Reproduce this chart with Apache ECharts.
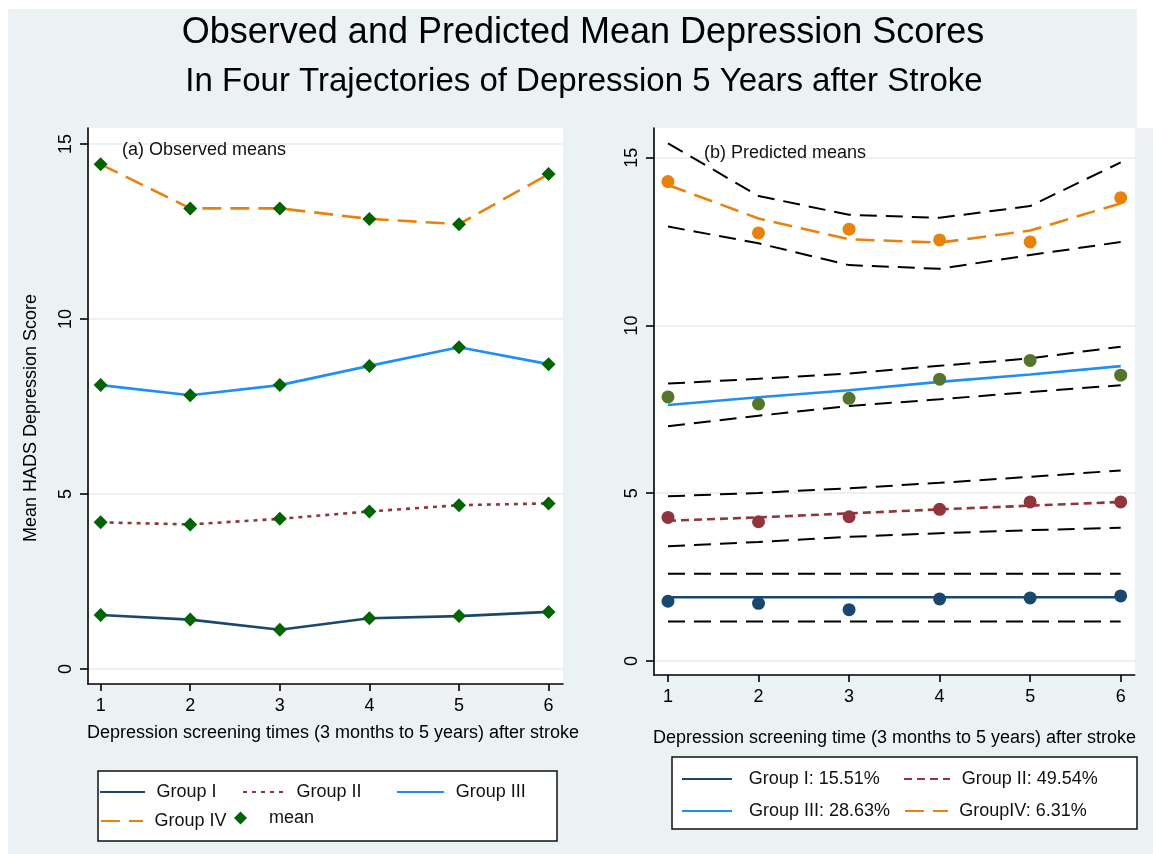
<!DOCTYPE html>
<html>
<head>
<meta charset="utf-8">
<script src="https://cdn.jsdelivr.net/npm/echarts@6/dist/echarts.min.js"></script>
<style>
html, body { margin: 0; padding: 0; background: #fff; }
#chart { width: 1153px; height: 854px; }
</style>
</head>
<body>
<div id="chart"></div>
<script>
// screening times and y ticks
var times = [1, 2, 3, 4, 5, 6];
var yTicks = [0, 5, 10, 15];

// (a) observed means
var groupNames = ['Group I', 'Group II', 'Group III', 'Group IV'];
var obsGroup1 = [1.54, 1.41, 1.12, 1.45, 1.51, 1.63];
var obsGroup2 = [4.19, 4.13, 4.29, 4.50, 4.68, 4.73];
var obsGroup3 = [8.11, 7.82, 8.11, 8.66, 9.19, 8.71];
var obsGroup4 = [14.42, 13.16, 13.16, 12.86, 12.71, 14.14];

// (b) predicted means, 95% limits, observed points
var predNames = ['Group I: 15.51%', 'Group II: 49.54%', 'Group III: 28.63%', 'GroupIV: 6.31%'];
var predGroup1 = [1.90, 1.90, 1.90, 1.90, 1.90, 1.90];
var lowGroup1 = [1.18, 1.18, 1.18, 1.18, 1.18, 1.18];
var highGroup1 = [2.60, 2.60, 2.60, 2.60, 2.60, 2.60];
var ptsGroup1 = [1.78, 1.72, 1.53, 1.85, 1.88, 1.94];

var predGroup2 = [4.18, 4.28, 4.40, 4.52, 4.63, 4.74];
var lowGroup2 = [3.42, 3.55, 3.70, 3.81, 3.90, 3.97];
var highGroup2 = [4.91, 5.01, 5.15, 5.31, 5.49, 5.68];
var ptsGroup2 = [4.28, 4.15, 4.30, 4.52, 4.74, 4.74];

var predGroup3 = [7.63, 7.86, 8.07, 8.32, 8.54, 8.79];
var lowGroup3 = [7.00, 7.31, 7.60, 7.80, 8.02, 8.22];
var highGroup3 = [8.27, 8.41, 8.57, 8.80, 9.02, 9.37];
var ptsGroup3 = [7.87, 7.66, 7.83, 8.40, 8.96, 8.52];

var predGroup4 = [14.19, 13.19, 12.57, 12.47, 12.83, 13.64];
var lowGroup4 = [12.95, 12.45, 11.80, 11.69, 12.10, 12.49];
var highGroup4 = [15.43, 13.86, 13.30, 13.21, 13.56, 14.86];
var ptsGroup4 = [14.29, 12.76, 12.87, 12.55, 12.49, 13.81];

var lineColors = ['#1a476f', '#90353b', '#1f8ff5', '#e8820c'];
var dotColors = ['#1a476f', '#90353b', '#55752f', '#e8820c'];
var FONT = 'Liberation Sans';

var chart = echarts.init(document.getElementById('chart'));

function pairs(ys) {
    return times.map(function (t, i) { return [t, ys[i]]; });
}

function xAxisFor(grid, min, max, name, gap, pad) {
    return {
        type: 'value', gridIndex: grid, min: min, max: max,
        name: name, nameLocation: 'middle', nameGap: gap,
        nameTextStyle: { fontFamily: FONT, fontSize: 18, color: '#000', padding: pad },
        axisLine: { show: true, onZero: false, lineStyle: { color: '#000', width: 1.6 } },
        axisTick: { show: true, length: 7, customValues: times, lineStyle: { color: '#000', width: 1.6 } },
        axisLabel: { customValues: times, fontFamily: FONT, fontSize: 18, color: '#000', margin: 13 },
        splitLine: { show: false }
    };
}

function yAxisFor(grid, min, max, name) {
    return {
        type: 'value', gridIndex: grid, min: min, max: max,
        name: name, nameLocation: 'middle', nameGap: 48,
        nameTextStyle: { fontFamily: FONT, fontSize: 18, color: '#000', padding: [0, 24, 0, 0] },
        axisLine: { show: true, onZero: false, lineStyle: { color: '#000', width: 1.6 } },
        axisTick: { show: true, length: 8, customValues: yTicks, lineStyle: { color: '#000', width: 1.6 } },
        axisLabel: { customValues: yTicks, rotate: 90, fontFamily: FONT, fontSize: 18, color: '#000', margin: 13 },
        splitLine: { show: true, lineStyle: { color: '#e4eef0', width: 1.5 } }
    };
}

// one legend per key so each sits where the Stata legend put it
function legendItem(name, left, center, w, pad, isMarker) {
    return {
        data: [name], left: left, top: center - 10, padding: 0,
        itemWidth: w, itemHeight: isMarker ? 13 : 14, selectedMode: false,
        itemStyle: isMarker ? {} : { opacity: 0 },
        textStyle: { fontFamily: FONT, fontSize: 18, lineHeight: 20, color: '#111', padding: [0, 0, 0, pad] }
    };
}

var obsData = [obsGroup1, obsGroup2, obsGroup3, obsGroup4];
var predData = [predGroup1, predGroup2, predGroup3, predGroup4];
var lowData = [lowGroup1, lowGroup2, lowGroup3, lowGroup4];
var highData = [highGroup1, highGroup2, highGroup3, highGroup4];
var ptsData = [ptsGroup1, ptsGroup2, ptsGroup3, ptsGroup4];
var leftTypes = ['solid', [4, 5], 'solid', [19, 9]];
var rightTypes = ['solid', [8, 5], 'solid', [19, 9]];

var series = [];
obsData.forEach(function (ys, i) {
    series.push({
        name: groupNames[i], type: 'line', xAxisIndex: 0, yAxisIndex: 0,
        data: pairs(ys), symbol: 'none', z: 3,
        lineStyle: { color: lineColors[i], width: 2.6, type: leftTypes[i] },
        itemStyle: { color: lineColors[i] }
    });
});
var meanPts = [];
obsData.forEach(function (ys) { meanPts = meanPts.concat(pairs(ys)); });
series.push({
    name: 'mean', type: 'scatter', xAxisIndex: 0, yAxisIndex: 0,
    data: meanPts, symbol: 'diamond', symbolSize: 14, z: 5,
    itemStyle: { color: '#006400', opacity: 1 }
});

lowData.forEach(function (ys, i) {
    [ys, highData[i]].forEach(function (band) {
        series.push({
            name: 'limits', type: 'line', xAxisIndex: 1, yAxisIndex: 1,
            data: pairs(band), symbol: 'none', z: 2,
            lineStyle: { color: '#000', width: 2, type: [17, 9] }
        });
    });
});
predData.forEach(function (ys, i) {
    series.push({
        name: predNames[i], type: 'line', xAxisIndex: 1, yAxisIndex: 1,
        data: pairs(ys), symbol: 'none', z: 3,
        lineStyle: { color: lineColors[i], width: 2.6, type: rightTypes[i] },
        itemStyle: { color: lineColors[i] }
    });
});
ptsData.forEach(function (ys, i) {
    series.push({
        name: 'observed ' + (i + 1), type: 'scatter', xAxisIndex: 1, yAxisIndex: 1,
        data: pairs(ys), symbol: 'circle', symbolSize: 13, z: 4,
        itemStyle: { color: dotColors[i], opacity: 1 }
    });
});

var option = {
    animation: false,
    backgroundColor: '#eaf2f3',
    grid: [
        { left: 88, top: 128, right: 590, bottom: 170, show: true, backgroundColor: '#fff', borderWidth: 0, outerBoundsMode: 'none' },
        { left: 654, top: 128, right: 18, bottom: 179, show: true, backgroundColor: '#fff', borderWidth: 0, outerBoundsMode: 'none' }
    ],
    xAxis: [
        xAxisFor(0, 0.859, 6.161, 'Depression screening times (3 months to 5 years) after stroke', 40, [0, 0, 0, 15]),
        xAxisFor(1, 0.8455, 6.158, 'Depression screening time (3 months to 5 years) after stroke', 54, 0)
    ],
    yAxis: [
        yAxisFor(0, -0.43, 15.457, 'Mean HADS Depression Score'),
        yAxisFor(1, -0.4175, 15.887, '')
    ],
    legend: [
        legendItem('Group I', 99, 792, 45, 6.5),
        legendItem('Group II', 242, 792, 45, 3.5),
        legendItem('Group III', 396, 792, 47, 6.7),
        legendItem('Group IV', 100, 821, 42, 6.5),
        legendItem('mean', 234, 818, 13, 17, true),
        legendItem('Group I: 15.51%', 681, 779, 50, 11.7),
        legendItem('Group II: 49.54%', 903, 779, 46, 6.7),
        legendItem('Group III: 28.63%', 681, 811, 50, 12),
        legendItem('GroupIV: 6.31%', 904, 811, 43, 6.3)
    ],
    graphic: [
        { type: 'rect', z: 0, shape: { x: 0, y: 0, width: 1153, height: 9 }, style: { fill: '#fff' } },
        { type: 'rect', z: 0, shape: { x: 0, y: 0, width: 8, height: 854 }, style: { fill: '#fff' } },
        { type: 'rect', z: 0, shape: { x: 1137, y: 0, width: 16, height: 128 }, style: { fill: '#fff' } },
        { type: 'rect', z: 10, shape: { x: 1135.5, y: 128, width: 17.5, height: 560 }, style: { fill: '#eaf2f3' } },
        { type: 'rect', z: 1, shape: { x: 98, y: 771, width: 459, height: 70 }, style: { fill: '#fff', stroke: '#111', lineWidth: 1.5 } },
        { type: 'rect', z: 1, shape: { x: 672, y: 757, width: 465, height: 72 }, style: { fill: '#fff', stroke: '#111', lineWidth: 1.5 } },
        { type: 'text', z: 10, x: 583, y: 33, style: { text: 'Observed and Predicted Mean Depression Scores', fontFamily: FONT, fontSize: 36, fill: '#000', align: 'center', verticalAlign: 'middle' } },
        { type: 'text', z: 10, x: 584, y: 82, style: { text: 'In Four Trajectories of Depression 5 Years after Stroke', fontFamily: FONT, fontSize: 33, fill: '#000', align: 'center', verticalAlign: 'middle' } },
        { type: 'text', z: 10, x: 122, y: 150, style: { text: '(a) Observed means', fontFamily: FONT, fontSize: 18, fill: '#111', align: 'left', verticalAlign: 'middle' } },
        { type: 'text', z: 10, x: 704, y: 153, style: { text: '(b) Predicted means', fontFamily: FONT, fontSize: 18, fill: '#111', align: 'left', verticalAlign: 'middle' } }
    ],
    series: series
};

chart.setOption(option);
</script>
</body>
</html>
